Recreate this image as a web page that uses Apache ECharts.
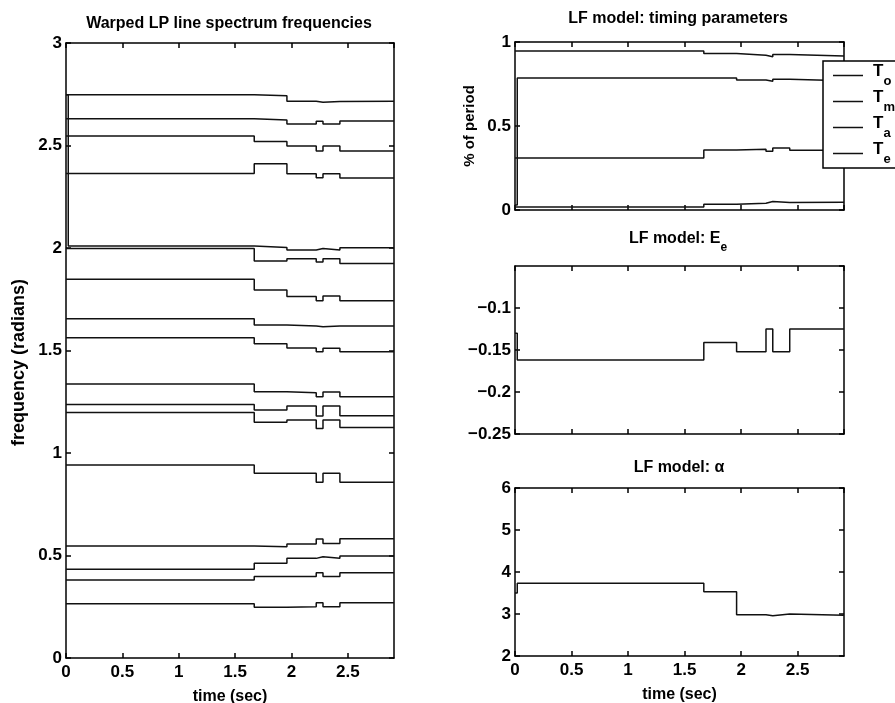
<!DOCTYPE html>
<html>
<head>
<meta charset="utf-8">
<script src="https://cdn.jsdelivr.net/npm/echarts@6/dist/echarts.min.js"></script>
<style>
  html, body { margin: 0; padding: 0; background: #fff; }
  #chart { width: 895px; height: 703px; }
</style>
</head>
<body>
<div id="chart"></div>
<script>
// Frame boundaries (sec): each track holds one value per segment starting at these times.
const segStart = [0, 0.02, 1.67, 1.96, 2.22, 2.28, 2.43];
const tEnd = 2.91;

// Warped LP line spectrum frequencies (radians), one value per segment.
const lsf01 = [2.748, 2.748, 2.743, 2.716, 2.711, 2.715, 2.716];
const lsf02 = [2.631, 2.631, 2.624, 2.605, 2.618, 2.605, 2.620];
const lsf03 = [2.546, 2.546, 2.520, 2.498, 2.473, 2.498, 2.473];
const lsf04 = [2.364, 2.364, 2.411, 2.362, 2.343, 2.362, 2.341];
const lsf05 = [2.748, 2.010, 2.003, 1.990, 1.998, 1.990, 2.001];
const lsf06 = [1.997, 1.997, 1.937, 1.948, 1.932, 1.948, 1.925];
const lsf07 = [1.847, 1.847, 1.795, 1.763, 1.743, 1.766, 1.743];
const lsf08 = [1.655, 1.655, 1.624, 1.620, 1.616, 1.620, 1.620];
const lsf09 = [1.562, 1.562, 1.533, 1.512, 1.494, 1.511, 1.494];
const lsf10 = [1.337, 1.337, 1.299, 1.294, 1.275, 1.298, 1.275];
const lsf11 = [1.237, 1.237, 1.210, 1.229, 1.180, 1.229, 1.182];
const lsf12 = [1.197, 1.197, 1.150, 1.161, 1.120, 1.161, 1.124];
const lsf13 = [0.941, 0.941, 0.901, 0.901, 0.857, 0.901, 0.857];
const lsf14 = [0.546, 0.546, 0.543, 0.556, 0.580, 0.559, 0.582];
const lsf15 = [0.433, 0.433, 0.462, 0.486, 0.494, 0.486, 0.498];
const lsf16 = [0.380, 0.380, 0.397, 0.397, 0.416, 0.398, 0.416];
const lsf17 = [0.265, 0.265, 0.247, 0.250, 0.270, 0.250, 0.270];
const lsfTracks = [lsf01, lsf02, lsf03, lsf04, lsf05, lsf06, lsf07, lsf08, lsf09,
                   lsf10, lsf11, lsf12, lsf13, lsf14, lsf15, lsf16, lsf17];

// LF model timing parameters (fraction of the pitch period).
const timingNames = ['To', 'Tm', 'Ta', 'Te'];
const timingSubs = { To: 'o', Tm: 'm', Ta: 'a', Te: 'e' };
const tO = [0.946, 0.946, 0.931, 0.921, 0.912, 0.926, 0.917];
const tM = [0.310, 0.786, 0.786, 0.774, 0.767, 0.779, 0.770];
const tA = [0.030, 0.310, 0.357, 0.362, 0.350, 0.369, 0.356];
const tE = [0.018, 0.018, 0.034, 0.040, 0.050, 0.044, 0.046];
const timingTracks = [tO, tM, tA, tE];

// LF model excitation amplitude Ee and shape parameter alpha.
const eeTrack = [-0.130, -0.162, -0.141, -0.152, -0.125, -0.152, -0.125];
const alphaTrack = [3.50, 3.73, 3.53, 2.98, 2.96, 3.00, 2.97];

// Axis tick settings
const xTicks = { min: 0, max: tEnd, interval: 0.5 };
const yLsf = { min: 0, max: 3, interval: 0.5 };
const yTiming = { min: 0, max: 1, interval: 0.5 };
const yEe = { min: -0.25, max: -0.05, interval: 0.05 };
const yAlpha = { min: 2, max: 6, interval: 1 };

const FONT = 'Liberation Sans';
const INK = '#000';

function toSteps(vals) {
  const pts = segStart.map((t, i) => [t, vals[i]]);
  pts.push([tEnd, vals[vals.length - 1]]);
  return pts;
}

const grids = [
  { left: 66, top: 43, width: 328, height: 615, outerBoundsMode: 'none' },
  { left: 515, top: 42, width: 329, height: 168, outerBoundsMode: 'none' },
  { left: 515, top: 266, width: 329, height: 168, outerBoundsMode: 'none' },
  { left: 515, top: 488, width: 329, height: 168, outerBoundsMode: 'none' }
];

const lineW = 1.5;
const labelStyle = { color: INK, fontSize: 17, fontWeight: 'bold', fontFamily: FONT };
const nameStyle = { color: INK, fontSize: 16, fontWeight: 'bold', fontFamily: FONT };

function minusFmt(v) {
  const s = String(+v.toFixed(4));
  return s.replace('-', '\u2212');
}

function makeX(gi, showLabels, name) {
  const base = {
    type: 'value', gridIndex: gi, min: xTicks.min, max: xTicks.max, interval: xTicks.interval,
    axisLine: { onZero: false, lineStyle: { color: INK, width: lineW } },
    axisTick: { inside: true, length: 5, lineStyle: { color: INK, width: lineW } },
    splitLine: { show: false }
  };
  return [
    Object.assign({}, base, {
      position: 'bottom',
      axisLabel: Object.assign({ show: showLabels, showMaxLabel: false, margin: 6 }, labelStyle),
      name: name || '', nameLocation: 'middle', nameGap: 31, nameTextStyle: nameStyle
    }),
    Object.assign({}, base, { position: 'top', axisLabel: { show: false } })
  ];
}

function makeY(gi, ticks, name, nameSize, namePad, fmt) {
  const base = {
    type: 'value', gridIndex: gi, min: ticks.min, max: ticks.max, interval: ticks.interval,
    axisLine: { onZero: false, lineStyle: { color: INK, width: lineW } },
    axisTick: { inside: true, length: 5, lineStyle: { color: INK, width: lineW } },
    splitLine: { show: false }
  };
  const lab = Object.assign({ show: true, margin: 4 }, labelStyle);
  if (fmt) { lab.formatter = fmt; lab.showMaxLabel = false; }
  return [
    Object.assign({}, base, {
      position: 'left', axisLabel: lab,
      name: name || '', nameLocation: 'middle', nameGap: 38, nameRotate: 90,
      nameTextStyle: Object.assign({}, nameStyle, { fontSize: nameSize || 16, padding: namePad || 0 })
    }),
    Object.assign({}, base, { position: 'right', axisLabel: { show: false } })
  ];
}

const xAxis = [].concat(
  makeX(0, true, 'time (sec)'),
  makeX(1, false),
  makeX(2, false),
  makeX(3, true, 'time (sec)')
);
const yAxis = [].concat(
  makeY(0, yLsf, 'frequency (radians)', 18, [0, 24, 0, 0]),
  makeY(1, yTiming, '% of period', 15),
  makeY(2, yEe, '', 16, 0, minusFmt),
  makeY(3, yAlpha, '')
);

function stepSeries(name, vals, gi) {
  return {
    name: name, type: 'line', step: 'end', showSymbol: false, symbol: 'none',
    xAxisIndex: gi * 2, yAxisIndex: gi * 2, data: toSteps(vals),
    lineStyle: { color: '#111', width: 1.5 }, itemStyle: { color: '#111' },
    animation: false, silent: true
  };
}

const series = [];
lsfTracks.forEach((trk, i) => series.push(stepSeries('lsf' + (i + 1), trk, 0)));
timingTracks.forEach((trk, i) => series.push(stepSeries(timingNames[i], trk, 1)));
series.push(stepSeries('Ee', eeTrack, 2));
series.push(stepSeries('alpha', alphaTrack, 3));

const titleFont = { fontFamily: FONT, fontSize: 16, fontWeight: 'bold', fill: INK };
function titleText(x, y, text, rich) {
  return {
    type: 'text', x: x, y: y, silent: true,
    style: Object.assign({ text: text, align: 'center', verticalAlign: 'top', rich: rich || {} }, titleFont)
  };
}

// Subscripts: the taller line box of the subscript token pushes it below the baseline.
const subRich = {
  a: { fontFamily: FONT, fontSize: 16, fontWeight: 'bold', fill: INK, lineHeight: 16, verticalAlign: 'top' },
  s: { fontFamily: FONT, fontSize: 12, fontWeight: 'bold', fill: INK, lineHeight: 23, verticalAlign: 'bottom' }
};

const option = {
  backgroundColor: '#fff',
  animation: false,
  grid: grids,
  xAxis: xAxis,
  yAxis: yAxis,
  series: series,
  legend: {
    data: timingNames,
    orient: 'vertical',
    left: 823, top: 61,
    icon: 'rect', itemWidth: 30, itemHeight: 1.5, itemGap: 1,
    padding: [2, 60, 2, 10],
    borderColor: INK, borderWidth: 1.5, backgroundColor: '#fff',
    selectedMode: false,
    formatter: function (name) { return '{t|T}{s|' + timingSubs[name] + '}'; },
    textStyle: {
      rich: {
        t: { fontFamily: FONT, fontSize: 17, fontWeight: 'bold', color: INK, lineHeight: 17, verticalAlign: 'top', padding: [0, 0, 0, 5] },
        s: { fontFamily: FONT, fontSize: 13, fontWeight: 'bold', color: INK, lineHeight: 25, verticalAlign: 'bottom' }
      }
    }
  },
  graphic: [
    titleText(229, 16, 'Warped LP line spectrum frequencies'),
    titleText(678, 11, 'LF model: timing parameters'),
    titleText(678, 231, '{a|LF model: E}{s|e}', subRich),
    titleText(679, 460, 'LF model: \u03b1')
  ]
};

const chart = echarts.init(document.getElementById('chart'), null, { renderer: 'canvas' });
chart.setOption(option);
</script>
</body>
</html>
